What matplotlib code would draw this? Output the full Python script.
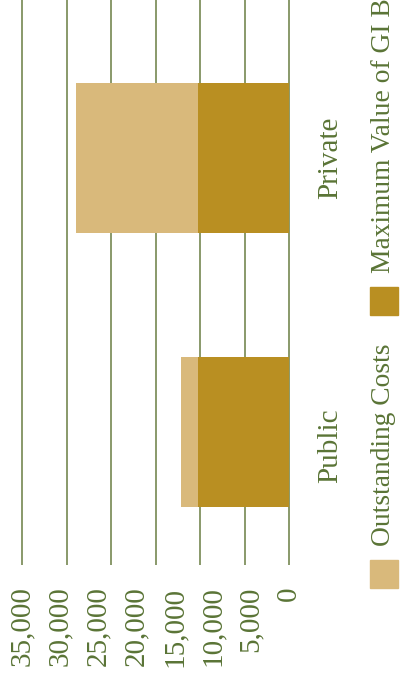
import numpy as np
import matplotlib.pyplot as plt
from matplotlib.patches import Rectangle

# data
categories = ['Public', 'Private']
max_gi_bill = [11950, 11950]
outstanding = [2200, 15950]
tick_values = [0, 5000, 10000, 15000, 20000, 25000, 30000, 35000]
tick_labels = ['0', '5,000', '10,000', '15,000', '20,000', '25,000', '30,000', '35,000']

dark = '#b98f22'
light = '#d9b97b'
txt = '#5a7436'
grid = '#6a7d42'

plt.rcParams['font.family'] = ['Liberation Serif', 'DejaVu Serif']

W, H = 409, 677
fig = plt.figure(figsize=(W / 100, H / 100), dpi=100)

# axes placed in pixels: x 20..291, y 0..565 (from top)
ax = fig.add_axes([20 / W, (H - 565) / H, 271 / W, 565 / H])
pos = list(range(len(categories)))
ax.barh(pos, max_gi_bill, height=0.547, color=dark, zorder=2)
ax.barh(pos, outstanding, left=max_gi_bill, height=0.547, color=light, zorder=2)

ax.set_xlim(35302, -262)
ax.set_ylim(-0.485, 1.577)
# the gridlines in the original split the axis in 6, not at the tick labels
for v in np.linspace(0, 35000, 7):
    ax.axvline(v, color=grid, lw=1.1, zorder=1)

ax.set_xticks(tick_values)
ax.set_xticklabels(tick_labels, rotation=90, color=txt, fontsize=21, va='top', ha='center')
ax.tick_params(axis='x', length=0, pad=15.5)
ax.set_yticks([])
for s in ax.spines.values():
    s.set_visible(False)

# category labels on the right side
label_shift = [-0.05, 0.0]
for i, c in enumerate(categories):
    ax.annotate(c, xy=(1, i + label_shift[i]), xycoords=ax.get_yaxis_transform(),
                xytext=(26, 0), textcoords='offset pixels',
                rotation=90, ha='left', va='center', color=txt, fontsize=21)

# hand-made legend (rotated)
legend_items = [('Outstanding Costs', light, 588), ('Maximum Value of GI Bill', dark, 315)]
for name, col, ybot in legend_items:
    fig.patches.append(Rectangle((370 / W, (H - ybot) / H), 28 / W, 28 / H,
                                 transform=fig.transFigure, color=col))
    fig.text(384 / W, (H - ybot + 42) / H, name, rotation=90, ha='center', va='bottom',
             color=txt, fontsize=19.8)

fig.savefig('out.png', dpi=100)
